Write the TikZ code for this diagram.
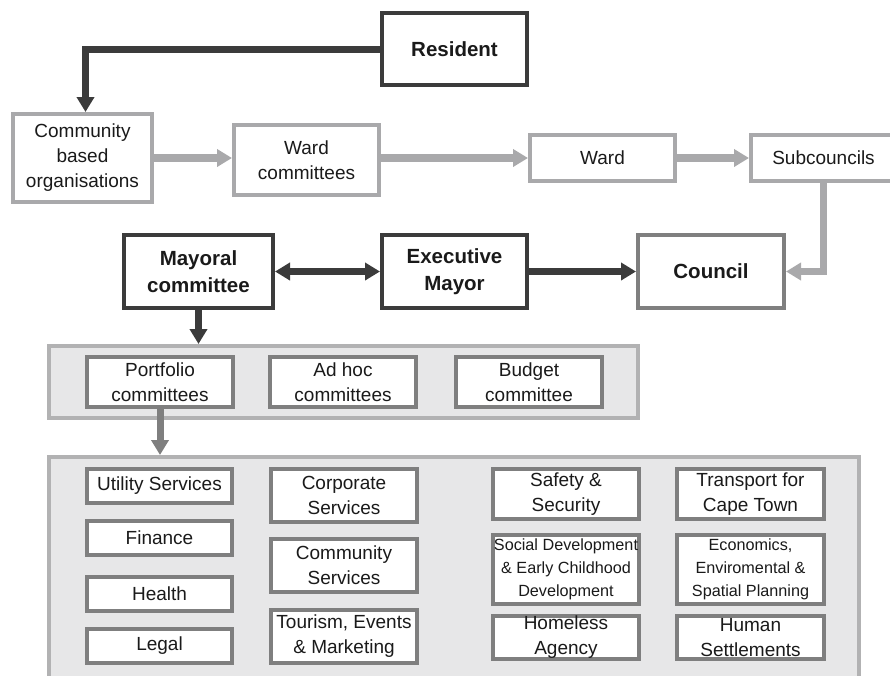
\documentclass[tikz,border=0pt]{standalone}
\usepackage{fontspec}
\setmainfont{Liberation Sans}
\usetikzlibrary{arrows.meta}

\definecolor{darkline}{HTML}{3B3B3B}
\definecolor{lightline}{HTML}{A9A9AB}
\definecolor{midline}{HTML}{7F7F7F}
\definecolor{panelfill}{HTML}{E7E7E8}
\definecolor{panelline}{HTML}{B2B2B3}
\definecolor{textcol}{HTML}{1A1A1A}

\tikzset{
  box/.style={rectangle, line width=4pt, fill=white, align=center, inner sep=0pt,
    text=textcol, font=\fontsize{19}{25}\selectfont},
  lightbox/.style={box, draw=lightline},
  darkbox/.style={box, draw=darkline, font=\bfseries\fontsize{20.5}{27}\selectfont},
  councilbox/.style={box, draw=midline, font=\bfseries\fontsize{20.5}{27}\selectfont},
  unitbox/.style={box, draw=midline},
  smallunit/.style={unitbox, font=\fontsize{16.2}{23}\selectfont},
  panel/.style={rectangle, line width=4pt, fill=panelfill, draw=panelline, inner sep=0pt},
  darkarrow/.style={draw=darkline, line width=7pt, -{Triangle[width=17pt,length=15pt]}},
  lightarrow/.style={draw=lightline, line width=7.5pt, -{Triangle[width=17pt,length=15pt]}},
  midarrow/.style={draw=midline, line width=7pt, -{Triangle[width=17pt,length=15pt]}}
}

\begin{document}
\begin{tikzpicture}[x=1pt, y=-1pt]
\useasboundingbox (0,0) rectangle (890,675);
\clip (0,0) rectangle (890,675);

% top row: residents and ward structures
\node[darkbox, minimum width=145, minimum height=72] (res) at (454.5,49) {Resident};
\node[lightbox, minimum width=139, minimum height=88] (cbo) at (82.5,158) {Community\\based\\organisations};
\node[lightbox, minimum width=145, minimum height=70] (wardc) at (306.5,160) {Ward\\committees};
\node[lightbox, minimum width=145, minimum height=46] (ward) at (602.5,158) {Ward};
\node[lightbox, minimum width=145, minimum height=46] (subc) at (823.5,158) {Subcouncils};

% executive row
\node[darkbox, minimum width=149, minimum height=73] (may) at (198.5,271.5) {Mayoral\\committee};
\node[darkbox, minimum width=145, minimum height=73] (exec) at (454.5,271.5) {Executive\\Mayor};
\node[councilbox, minimum width=146, minimum height=73] (council) at (711,271.5) {Council};

% committees panel
\node[panel, minimum width=589, minimum height=72] (panelA) at (343.5,382) {};
\node[unitbox, minimum width=146, minimum height=50] (port) at (160,382) {Portfolio\\committees};
\node[unitbox, minimum width=146, minimum height=50] (adhoc) at (343,382) {Ad hoc\\committees};
\node[unitbox, minimum width=146, minimum height=50] (budget) at (529,382) {Budget\\committee};

% portfolio panel
\node[panel, minimum width=810, minimum height=240] (panelB) at (454,577) {};
\node[unitbox, minimum width=145, minimum height=34] (util) at (159.5,486) {Utility Services};
\node[unitbox, minimum width=145, minimum height=34] (fin) at (159.5,538) {Finance};
\node[unitbox, minimum width=145, minimum height=34] (health) at (159.5,594) {Health};
\node[unitbox, minimum width=145, minimum height=34] (legal) at (159.5,646) {Legal};
\node[unitbox, minimum width=146, minimum height=53] (corp) at (344,495.5) {Corporate\\Services};
\node[unitbox, minimum width=146, minimum height=53] (comm) at (344,565.5) {Community\\Services};
\node[unitbox, minimum width=146, minimum height=53] (tour) at (344,636.5) {Tourism, Events\\\& Marketing};
\node[unitbox, minimum width=146, minimum height=50] (safety) at (566,494) {Safety \&\\Security};
\node[unitbox, minimum width=147, minimum height=50] (transport) at (750.5,494) {Transport for\\Cape Town};
\node[smallunit, minimum width=146, minimum height=69] (social) at (566,569.5) {Social Development\\\& Early Childhood\\Development};
\node[smallunit, minimum width=147, minimum height=69] (econ) at (750.5,569.5) {Economics,\\Enviromental \&\\Spatial Planning};
\node[unitbox, minimum width=146, minimum height=43] (homeless) at (566,637.5) {Homeless\\Agency};
\node[unitbox, minimum width=147, minimum height=43] (human) at (750.5,637.5) {Human\\Settlements};

% connectors
\draw[darkarrow] (res.west) -| ([xshift=3pt]cbo.north);
\draw[lightarrow] (cbo.east |- 0,158) -- (wardc.west |- 0,158);
\draw[lightarrow] (wardc.east |- 0,158) -- (ward.west);
\draw[lightarrow] (ward.east) -- (subc.west);
\draw[lightarrow] (subc.south) |- (council.east);
\draw[draw=darkline, line width=7pt, {Triangle[width=17pt,length=15pt]}-{Triangle[width=17pt,length=15pt]}] (may.east) -- (exec.west);
\draw[darkarrow] (exec.east) -- (council.west);
\draw[darkarrow] (may.south) -- (may.south |- panelA.north);
\draw[midarrow] (port.south) -- (port.south |- panelB.north);
\end{tikzpicture}
\end{document}
